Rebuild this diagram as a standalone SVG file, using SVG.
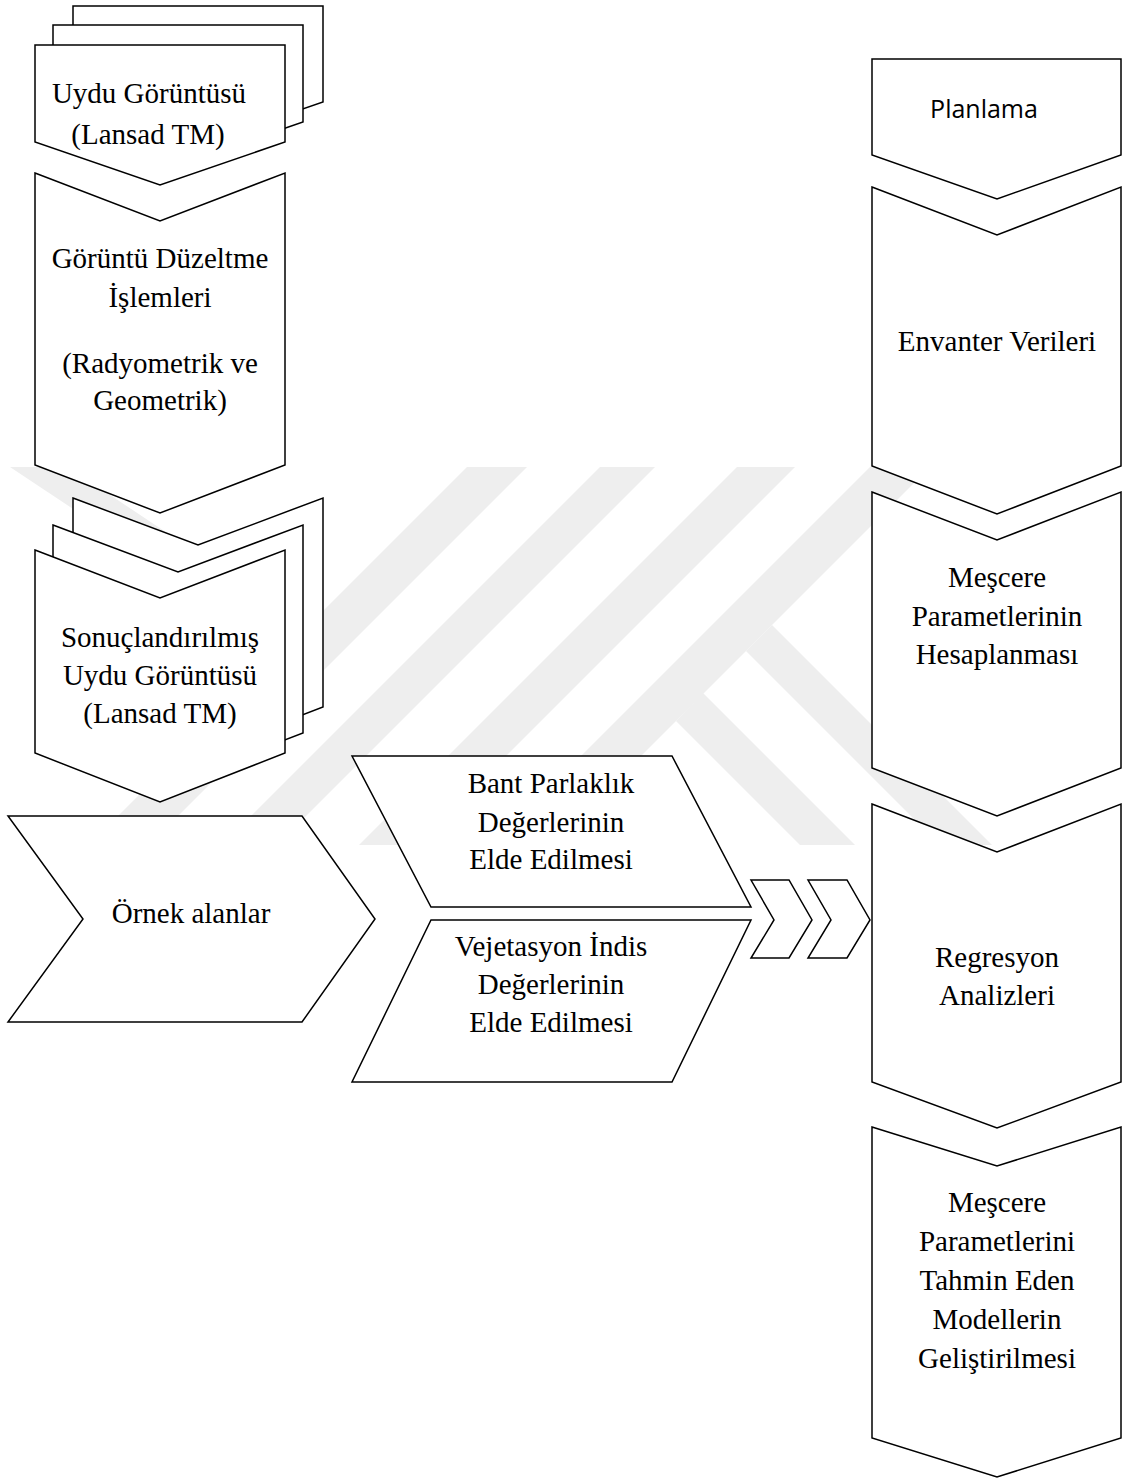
<svg xmlns="http://www.w3.org/2000/svg" width="1129" height="1479" viewBox="0 0 1129 1479">
<style>
.bg{fill:#ffffff}
.wm{fill:#eeeeee}
.sh{fill:#ffffff;stroke:#000000;stroke-width:1.5;stroke-linejoin:miter}
.t{font-family:"Liberation Serif","Times New Roman",serif;font-size:29px;fill:#000000;text-anchor:middle}
.s{font-family:"Open Sans","Noto Sans",sans-serif;font-size:25px;fill:#000000;text-anchor:middle}
</style>
<rect class="bg" x="0" y="0" width="1129" height="1479"/>
<g id="watermark">
<polygon class="wm" points="10,467 68,467 268,600 210,600"/>
<polygon class="wm" points="467,467 527,467 149,845 89,845"/>
<polygon class="wm" points="600,467 655,467 277,845 222,845"/>
<polygon class="wm" points="737,467 795,467 417,845 359,845"/>
<polygon class="wm" points="870,467 930,467 552,845 492,845"/>
<polygon class="wm" points="772,625 992,845 940,845 746,651"/>
<polygon class="wm" points="703,693 855,845 800,845 676,721"/>
</g>
<g id="uydu">
<polygon class="sh" points="73,6 323,6 323,102 198,145 73,102"/>
<polygon class="sh" points="53,25 303,25 303,122 178,165 53,122"/>
<polygon class="sh" points="35,45 285,45 285,142 160,185 35,142"/>
<text class="t" x="149" y="103">Uydu Görüntüsü</text>
<text class="t" x="148" y="144">(Lansad TM)</text>
</g>
<g id="goruntu">
<polygon class="sh" points="35,173 160,221 285,173 285,465 160,513 35,465"/>
<text class="t" x="160" y="268">Görüntü Düzeltme</text>
<text class="t" x="160" y="307">İşlemleri</text>
<text class="t" x="160" y="373">(Radyometrik ve</text>
<text class="t" x="160" y="410">Geometrik)</text>
</g>
<g id="sonuc">
<polygon class="sh" points="73,498 198,545 323,498 323,707 198,755 73,707"/>
<polygon class="sh" points="53,525 178,572 303,525 303,733 178,781 53,733"/>
<polygon class="sh" points="35,550 160,598 285,550 285,753 160,802 35,753"/>
<text class="t" x="160" y="647">Sonuçlandırılmış</text>
<text class="t" x="160" y="685">Uydu Görüntüsü</text>
<text class="t" x="160" y="723">(Lansad TM)</text>
</g>
<g id="ornek">
<polygon class="sh" points="8,816 302,816 375,919 302,1022 8,1022 83,919"/>
<text class="t" x="191" y="923">Örnek alanlar</text>
</g>
<g id="bant">
<polygon class="sh" points="352,756 672,756 751,907 431,907"/>
<text class="t" x="551" y="793">Bant Parlaklık</text>
<text class="t" x="551" y="832">Değerlerinin</text>
<text class="t" x="551" y="869">Elde Edilmesi</text>
</g>
<g id="vejetasyon">
<polygon class="sh" points="431,920 751,920 672,1082 352,1082"/>
<text class="t" x="551" y="956">Vejetasyon İndis</text>
<text class="t" x="551" y="994">Değerlerinin</text>
<text class="t" x="551" y="1032">Elde Edilmesi</text>
</g>
<g id="connectors">
<polygon class="sh" points="751,880 789,880 812,920 789,958 751,958 774,920"/>
<polygon class="sh" points="808,880 847,880 870,920 847,958 808,958 831,920"/>
</g>
<g id="planlama">
<polygon class="sh" points="872,59 1121,59 1121,155 997,199 872,155"/>
<text class="s" x="984" y="118">Planlama</text>
</g>
<g id="envanter">
<polygon class="sh" points="872,187 997,235 1121,187 1121,466 997,514 872,466"/>
<text class="t" x="997" y="351">Envanter Verileri</text>
</g>
<g id="mescere1">
<polygon class="sh" points="872,492 997,540 1121,492 1121,768 997,816 872,768"/>
<text class="t" x="997" y="587">Meşcere</text>
<text class="t" x="997" y="626">Parametlerinin</text>
<text class="t" x="997" y="664">Hesaplanması</text>
</g>
<g id="regresyon">
<polygon class="sh" points="872,804 997,852 1121,804 1121,1082 997,1128 872,1082"/>
<text class="t" x="997" y="967">Regresyon</text>
<text class="t" x="997" y="1005">Analizleri</text>
</g>
<g id="mescere2">
<polygon class="sh" points="872,1127 997,1166 1121,1127 1121,1438 997,1477 872,1438"/>
<text class="t" x="997" y="1212">Meşcere</text>
<text class="t" x="997" y="1251">Parametlerini</text>
<text class="t" x="997" y="1290">Tahmin Eden</text>
<text class="t" x="997" y="1329">Modellerin</text>
<text class="t" x="997" y="1368">Geliştirilmesi</text>
</g>
</svg>
